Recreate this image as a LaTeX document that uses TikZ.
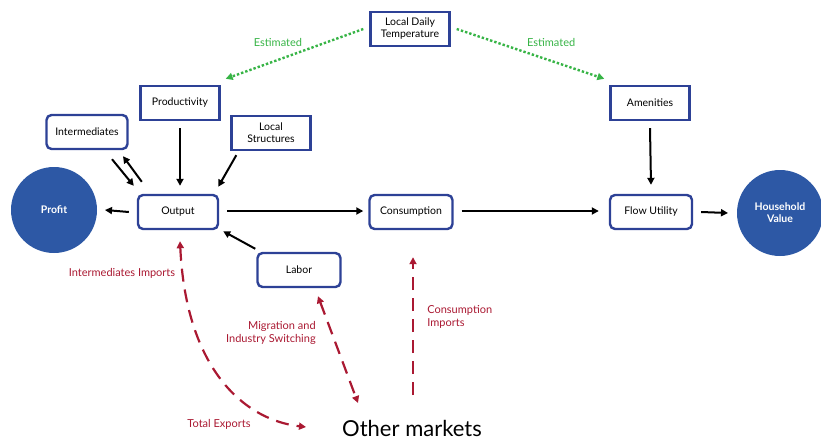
\documentclass[tikz,border=0pt]{standalone}
\usepackage{fontspec}
\setmainfont{Lato}
\usepackage{tikz}
\usetikzlibrary{calc,arrows.meta}
\definecolor{boxblue}{RGB}{45,65,150}
\definecolor{dotblue}{RGB}{45,88,165}
\definecolor{estgreen}{RGB}{55,180,70}
\definecolor{tradered}{RGB}{170,25,50}

\begin{document}
\begin{tikzpicture}[x=1pt, y=-1pt, line width=2pt, >={Triangle[length=7pt,width=7pt]},
  sq/.style={draw=boxblue, line width=2.4pt, fill=white, minimum width=79pt, minimum height=34pt, font=\fontsize{10.5}{12}\selectfont, align=center, inner sep=2pt},
  rd/.style={sq, rounded corners=5pt},
  blob/.style={circle, fill=dotblue, text=white, minimum size=86pt, inner sep=0pt, font=\fontsize{10.5}{12}\selectfont\bfseries, align=center},
  est/.style={->, estgreen, dotted, line width=2.4pt},
  estlbl/.style={font=\fontsize{11}{13}\selectfont, text=estgreen},
  trade/.style={->, tradered, dash pattern=on 13pt off 8pt, line width=2.2pt},
  lbl/.style={font=\fontsize{11}{13}\selectfont, text=tradered, align=left}]
  \useasboundingbox (0,0) rectangle (821,442);
  \node [sq]   (temp) at (410, 29) {Local Daily\\Temperature};
  \node [sq]   (prod) at (180,103) {Productivity};
  \node [rd, minimum width=81pt] (inter) at ( 87,132) {Intermediates};
  \node [sq]   (struct) at (271,133) {Local\\Structures};
  \node [sq]   (amen) at (650,103) {Amenities};
  \node [rd, minimum width=80pt] (out) at (178,212) {Output};
  \node [rd, minimum width=83pt] (cons) at (411,212) {Consumption};
  \node [rd, minimum width=82pt] (flow) at (651,212) {Flow Utility};
  \node [rd, minimum width=83pt] (labor) at (299,270) {Labor};
  \node [blob] (profit) at ( 54,210) {Profit};
  \node [blob] (hh) at (780,213) {Household\\Value};
  \node [font=\fontsize{22}{26}\selectfont, inner sep=1pt] (other) at (412,428) {Other markets};
  % temperature channels
  \draw [est] (temp.west) ++(-6,0) -- node [pos=0.62, yshift=17pt, estlbl] {Estimated} ($(prod.north east)+(5,-6)$);
  \draw [est] (temp.east) ++(6,0) -- node [pos=0.64, yshift=18pt, estlbl] {Estimated} ($(amen.north west)+(-5,-6)$);
  % production side
  \draw [->] ($(prod.south)+(0,7)$) -- ($(out.north)+(2,-8)$);
  \draw [->] ($(inter.south)+(25,9)$) -- ($(out.north west)+(-3,-8)$);
  \draw [->] ($(out.north west)+(5,-12)$) -- ($(inter.south)+(36,6)$);
  \draw [->] ($(struct.south west)+(6,4)$) -- ($(out.north east)+(-1,-7)$);
  \draw [->] ($(labor.north west)+(-1,-3)$) -- ($(out.south east)+(4,1)$);
  \draw [->] ($(out.west)+(-8,0)$) -- ($(profit.east)+(7,0)$);
  % household side
  \draw [->] ($(out.east)+(8,-1)$) -- ($(cons.west)+(-5,-1)$);
  \draw [->] ($(cons.east)+(8,-1)$) -- ($(flow.west)+(-10,-1)$);
  \draw [->] ($(amen.south)+(0,7)$) -- ($(flow.north)+(0,-9)$);
  \draw [->] ($(flow.east)+(8,0)$) -- ($(hh.west)+(-8,0)$);
  % other markets
  \coordinate (exp) at (306,427);
  \coordinate (mig) at (358,403);
  \coordinate (imp) at (413,395);
  \draw [trade, <->] ($(out.south)+(2,11)$) .. controls (186,370) and (245,420) .. (exp);
  \draw [trade, <->] ($(labor.south)+(19,8)$) -- (mig);
  \draw [trade] (imp) -- ($(cons.south)+(2,27)$);
  \node [lbl] at (122,273) {Intermediates Imports};
  \node [lbl] at (219,424) {Total Exports};
  \node [lbl, align=right, anchor=east] at (320,333) {Migration and\\Industry Switching};
  \node [lbl, anchor=west] at (423,317) {Consumption\\Imports};
\end{tikzpicture}
\end{document}
